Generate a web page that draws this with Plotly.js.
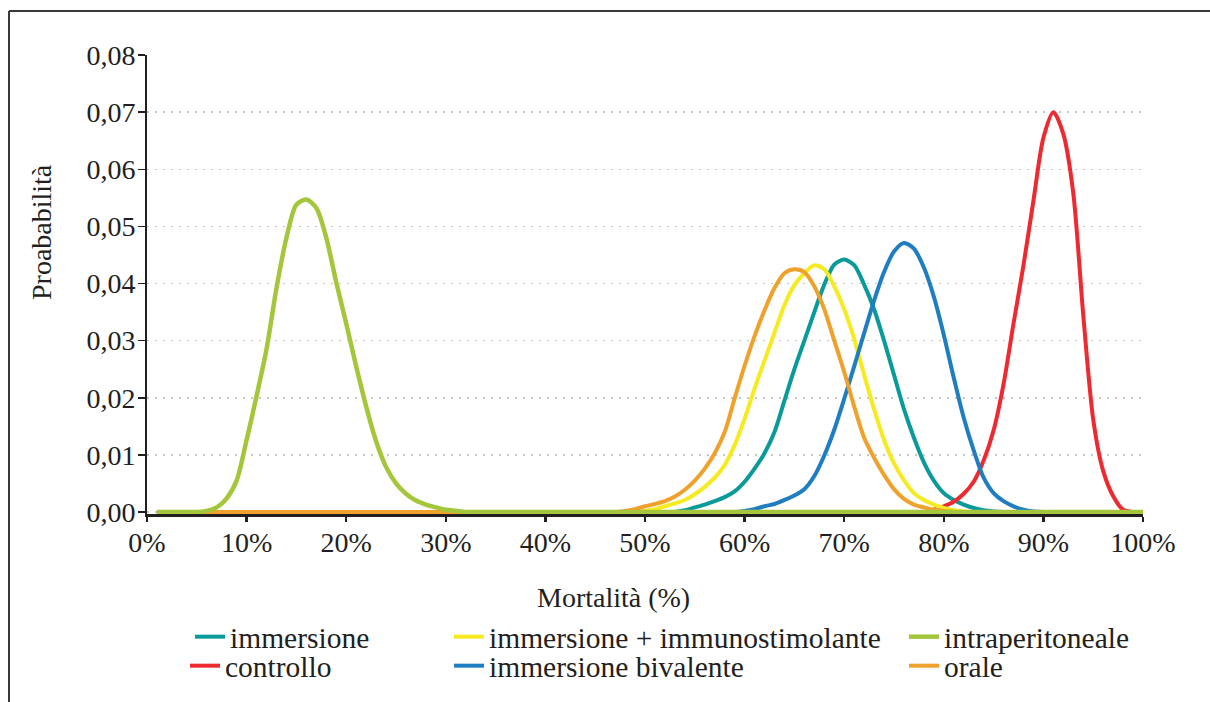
<!DOCTYPE html>
<html>
<head>
<meta charset="utf-8">
<script src="https://cdn.plot.ly/plotly-3.0.1.min.js"></script>
<style>
  html, body { margin: 0; padding: 0; background: #ffffff; }
  #chart { width: 1210px; height: 702px; }
</style>
</head>
<body>
<div id="chart"></div>
<script>
// ---------------- DATA ----------------
const mortalita = [
   1, 2, 3, 4, 5, 6, 7, 8, 9, 10,
  11,12,13,14,15,16,17,18,19, 20,
  21,22,23,24,25,26,27,28,29, 30,
  31,32,33,34,35,36,37,38,39, 40,
  41,42,43,44,45,46,47,48,49, 50,
  51,52,53,54,55,56,57,58,59, 60,
  61,62,63,64,65,66,67,68,69, 70,
  71,72,73,74,75,76,77,78,79, 80,
  81,82,83,84,85,86,87,88,89, 90,
  91,92,93,94,95,96,97,98,99,100
];

const immersione = [
  0,0,0,0,0,0,0,0,0,0,
  0,0,0,0,0,0,0,0,0,0,
  0,0,0,0,0,0,0,0,0,0,
  0,0,0,0,0,0,0,0,0,0,
  0,0,0,0,0,0,0,0,0,0,
  0,0,0,0.0003,0.0008,0.0013,0.0019,0.0026,0.0036,0.0053,
  0.0076,0.0103,0.0140,0.0195,0.0250,0.0300,0.0350,0.0398,0.0433,0.0442,
  0.0432,0.0398,0.0355,0.0300,0.0240,0.0180,0.0130,0.0087,0.0055,0.0033,
  0.0021,0.0013,0.0007,0.0003,0.0001,0,0,0,0,0,
  0,0,0,0,0,0,0,0,0,0
];

const controllo = [
  0,0,0,0,0,0,0,0,0,0,
  0,0,0,0,0,0,0,0,0,0,
  0,0,0,0,0,0,0,0,0,0,
  0,0,0,0,0,0,0,0,0,0,
  0,0,0,0,0,0,0,0,0,0,
  0,0,0,0,0,0,0,0,0,0,
  0,0,0,0,0,0,0,0,0,0,
  0,0,0,0,0,0,0,0,0.0004,0.0010,
  0.0018,0.0032,0.0053,0.0090,0.0143,0.0224,0.0330,0.0432,0.0545,0.0655,
  0.0700,0.0662,0.0558,0.0345,0.0162,0.0072,0.0028,0.0004,0,0
];

const immersioneImmunostimolante = [
  0,0,0,0,0,0,0,0,0,0,
  0,0,0,0,0,0,0,0,0,0,
  0,0,0,0,0,0,0,0,0,0,
  0,0,0,0,0,0,0,0,0,0,
  0,0,0,0,0,0,0,0,0,0.0002,
  0.0005,0.0010,0.0015,0.0021,0.0031,0.0044,0.0060,0.0082,0.0117,0.0163,
  0.0216,0.0265,0.0314,0.0362,0.0397,0.0418,0.0432,0.0425,0.0395,0.0355,
  0.0303,0.0240,0.0180,0.0126,0.0085,0.0056,0.0033,0.0021,0.0013,0.0007,
  0.0003,0.0001,0,0,0,0,0,0,0,0,
  0,0,0,0,0,0,0,0,0,0
];

const immersioneBivalente = [
  0,0,0,0,0,0,0,0,0,0,
  0,0,0,0,0,0,0,0,0,0,
  0,0,0,0,0,0,0,0,0,0,
  0,0,0,0,0,0,0,0,0,0,
  0,0,0,0,0,0,0,0,0,0,
  0,0,0,0,0,0,0,0,0,0.0002,
  0.0005,0.0010,0.0014,0.0021,0.0029,0.0040,0.0063,0.0099,0.0144,0.0198,
  0.0255,0.0313,0.0370,0.0420,0.0456,0.0471,0.0461,0.0428,0.0377,0.0310,
  0.0235,0.0165,0.0108,0.0060,0.0033,0.0019,0.0010,0.0004,0.0001,0,
  0,0,0,0,0,0,0,0,0,0
];

const orale = [
  0,0,0,0,0,0,0,0,0,0,
  0,0,0,0,0,0,0,0,0,0,
  0,0,0,0,0,0,0,0,0,0,
  0,0,0,0,0,0,0,0,0,0,
  0,0,0,0,0,0,0,0.0002,0.0005,0.0010,
  0.0014,0.0019,0.0027,0.0039,0.0055,0.0076,0.0103,0.0140,0.0199,0.0256,
  0.0308,0.0353,0.0392,0.0418,0.0425,0.0420,0.0395,0.0355,0.0300,0.0245,
  0.0185,0.0130,0.0095,0.0065,0.0040,0.0023,0.0013,0.0008,0.0004,0.0002,
  0,0,0,0,0,0,0,0,0,0,
  0,0,0,0,0,0,0,0,0,0
];

const intraperitoneale = [
  0,0,0,0,0,0.0002,0.0008,0.0024,0.0055,0.0126,
  0.0203,0.0285,0.0392,0.0480,0.0538,0.0547,0.0532,0.0480,0.0402,0.0330,
  0.0255,0.0185,0.0124,0.0079,0.0050,0.0032,0.0020,0.0013,0.0008,0.0004,
  0.0002,0,0,0,0,0,0,0,0,0,
  0,0,0,0,0,0,0,0,0,0,
  0,0,0,0,0,0,0,0,0,0,
  0,0,0,0,0,0,0,0,0,0,
  0,0,0,0,0,0,0,0,0,0,
  0,0,0,0,0,0,0,0,0,0,
  0,0,0,0,0,0,0,0,0,0
];

const seriesNames = [
  'immersione', 'controllo', 'immersione + immunostimolante',
  'immersione bivalente', 'orale', 'intraperitoneale'
];

const xTickVals   = [0, 10, 20, 30, 40, 50, 60, 70, 80, 90, 100];
const xTickLabels = ['0%','10%','20%','30%','40%','50%','60%','70%','80%','90%','100%'];
const yTickVals   = [0, 0.01, 0.02, 0.03, 0.04, 0.05, 0.06, 0.07, 0.08];
const yTickLabels = ['0,00','0,01','0,02','0,03','0,04','0,05','0,06','0,07','0,08'];

const xTitle = 'Mortalità (%)';
const yTitle = 'Proababilità';

// ---------------- STYLES ----------------
const FONT = 'Liberation Serif, Times New Roman, serif';
const TXT = '#231f20';
const W = 1210, H = 702;
const M = { l: 147, r: 67, t: 55, b: 188 };
const Y_RANGE = [-0.00035, 0.08];
const PW = W - M.l - M.r, PH = H - M.t - M.b;
const px2x = p => (p - M.l) / PW;
const py2y = p => (H - M.b - p) / PH;

const colors = ['#0a9a99', '#ee2a30', '#f6ea20', '#1f7dc2', '#f0a12c', '#a3c63b'];
const values = [immersione, controllo, immersioneImmunostimolante, immersioneBivalente, orale, intraperitoneale];
const legendIds = ['legend', 'legend2', 'legend3', 'legend4', 'legend5', 'legend6'];

const traces = values.map((v, i) => ({
  type: 'scatter',
  mode: 'lines',
  name: seriesNames[i],
  x: mortalita,
  y: v,
  line: { color: colors[i], width: i === 5 ? 4.5 : 4, shape: 'spline', smoothing: 0.8 },
  legend: legendIds[i],
  hoverinfo: 'skip'
}));

// legend positions in page pixels [x, y-center]
const legendPos = [
  [190, 637],  // immersione
  [185, 666],  // controllo
  [449, 637],  // immersione + immunostimolante
  [449, 666],  // immersione bivalente
  [904, 666],  // orale
  [904, 637]   // intraperitoneale
];

function makeLegend(p) {
  return {
    x: p[0] / W, y: 1 - p[1] / H,
    xref: 'container', yref: 'container',
    xanchor: 'left', yanchor: 'middle',
    bgcolor: 'rgba(0,0,0,0)', borderwidth: 0,
    font: { family: FONT, size: 29.5, color: TXT }
  };
}

const layout = {
  width: W, height: H,
  margin: { l: M.l, r: M.r, t: M.t, b: M.b, pad: 0, autoexpand: false },
  paper_bgcolor: '#ffffff',
  plot_bgcolor: '#ffffff',
  separators: ',.',
  font: { family: FONT, size: 28, color: TXT },
  showlegend: true,
  xaxis: {
    range: [0, 100],
    tickmode: 'array', tickvals: xTickVals, ticktext: xTickLabels,
    showline: true, linecolor: TXT, linewidth: 3,
    ticks: 'outside', ticklen: 5, tickwidth: 2.5, tickcolor: TXT,
    ticklabelstandoff: -4,
    showgrid: false, zeroline: false, automargin: false,
    tickfont: { family: FONT, size: 28, color: TXT },
    fixedrange: true
  },
  yaxis: {
    range: Y_RANGE,
    tickmode: 'array', tickvals: yTickVals, ticktext: yTickLabels,
    showline: true, linecolor: TXT, linewidth: 2,
    ticks: 'outside', ticklen: 7, tickwidth: 1.5, tickcolor: TXT,
    ticklabelstandoff: -3,
    showgrid: true, gridcolor: '#c6c6c6', gridwidth: 1.5, griddash: '1.5px,6.5px',
    zeroline: false, automargin: false,
    tickfont: { family: FONT, size: 28, color: TXT },
    fixedrange: true
  },
  annotations: [
    {
      text: xTitle, xref: 'paper', yref: 'paper',
      x: px2x(613), y: py2y(597), xanchor: 'center', yanchor: 'middle',
      showarrow: false, font: { family: FONT, size: 28, color: TXT }
    },
    {
      text: yTitle, xref: 'paper', yref: 'paper',
      x: px2x(42), y: py2y(232), xanchor: 'center', yanchor: 'middle',
      textangle: -90,
      showarrow: false, font: { family: FONT, size: 28, color: TXT }
    }
  ],
  shapes: [
    { type: 'line', xref: 'paper', yref: 'paper',
      x0: px2x(9), x1: px2x(9), y0: py2y(11), y1: py2y(720),
      line: { color: '#3a3a3a', width: 2 } },
    { type: 'line', xref: 'paper', yref: 'paper',
      x0: px2x(9), x1: px2x(1230), y0: py2y(11), y1: py2y(11),
      line: { color: '#3a3a3a', width: 2 } }
  ]
};

legendIds.forEach((id, i) => { layout[id] = makeLegend(legendPos[i]); });

Plotly.newPlot('chart', traces, layout, { staticPlot: true, displayModeBar: false });
</script>
</body>
</html>
